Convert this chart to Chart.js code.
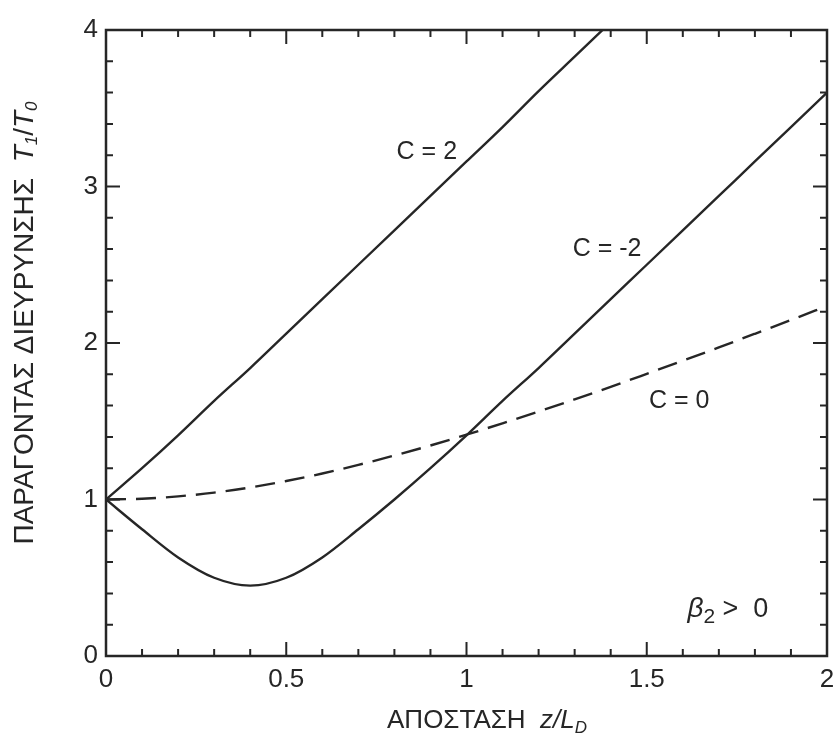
<!DOCTYPE html>
<html>
<head>
<meta charset="utf-8">
<script src="https://cdn.jsdelivr.net/npm/chart.js@4.4.1/dist/chart.umd.min.js"></script>
<style>
  html, body { margin: 0; padding: 0; background: #fff; }
</style>
</head>
<body>
<canvas id="chart" width="835" height="745"></canvas>
<script>
// distance z/L_D (x axis)
const distance = [0, 0.1, 0.2, 0.3, 0.4, 0.5, 0.6, 0.7, 0.8, 0.9, 1.0,
  1.1, 1.2, 1.3, 1.4, 1.5, 1.6, 1.7, 1.8, 1.9, 2.0];

// broadening factor T1/T0
const broadC2 = [1.0, 1.2, 1.41, 1.63, 1.84, 2.06, 2.28, 2.5, 2.72, 2.94, 3.16,
  3.38, 3.61, 3.83, 4.05];
const broadCm2 = [1.0, 0.81, 0.63, 0.5, 0.45, 0.5, 0.63, 0.81, 1.0, 1.2, 1.41,
  1.63, 1.84, 2.06, 2.28, 2.5, 2.72, 2.94, 3.16, 3.38, 3.6];
const broadC0 = [1.0, 1.005, 1.02, 1.044, 1.077, 1.118, 1.166, 1.221, 1.281, 1.345, 1.414,
  1.487, 1.562, 1.64, 1.72, 1.803, 1.887, 1.972, 2.059, 2.147, 2.236];

const xTickValues = [0, 0.5, 1, 1.5, 2];
const yTickValues = [0, 1, 2, 3, 4];

const curveLabels = ['C = 2', 'C = -2', 'C = 0'];
const yTitleText = 'ΠΑΡΑΓΟΝΤΑΣ ΔΙΕΥΡΥΝΣΗΣ';
const xTitleText = 'ΑΠΟΣΤΑΣΗ';

const INK = '#262626';
const FONT = "'Liberation Sans', Arial, sans-serif";

const toPoints = (ys) => ys.map((y, i) => ({ x: distance[i], y: y }));

// draw text made of pieces with different fonts (italic, subscripts)
function drawParts(ctx, parts, cx, cy) {
  let total = 0;
  parts.forEach(p => { ctx.font = p.font; total += ctx.measureText(p.t).width; });
  let x = cx - total / 2;
  parts.forEach(p => {
    ctx.font = p.font;
    ctx.fillText(p.t, x, cy + (p.dy || 0));
    x += ctx.measureText(p.t).width;
  });
}

const framePlugin = {
  id: 'frame',
  afterDraw(chart) {
    const { ctx, chartArea: a, scales } = chart;
    const xs = scales.x, ys = scales.y;
    ctx.save();
    ctx.strokeStyle = INK;
    ctx.fillStyle = INK;

    // box
    ctx.lineWidth = 2.5;
    ctx.strokeRect(a.left, a.top, a.right - a.left, a.bottom - a.top);

    // inward ticks on all four sides
    ctx.lineWidth = 2;
    ctx.beginPath();
    for (let i = 0; i <= 20; i++) {
      const px = xs.getPixelForValue(i / 10);
      const len = i % 5 === 0 ? 14 : 7;
      ctx.moveTo(px, a.bottom); ctx.lineTo(px, a.bottom - len);
      ctx.moveTo(px, a.top); ctx.lineTo(px, a.top + len);
    }
    for (let i = 0; i <= 20; i++) {
      const py = ys.getPixelForValue(i / 5);
      const len = i % 5 === 0 ? 14 : 7;
      ctx.moveTo(a.left, py); ctx.lineTo(a.left + len, py);
      ctx.moveTo(a.right, py); ctx.lineTo(a.right - len, py);
    }
    ctx.stroke();

    // curve labels
    ctx.textBaseline = 'middle';
    ctx.font = '25px ' + FONT;
    ctx.textAlign = 'center';
    ctx.fillText(curveLabels[0], xs.getPixelForValue(0.89), ys.getPixelForValue(3.22));
    ctx.fillText(curveLabels[1], xs.getPixelForValue(1.39), ys.getPixelForValue(2.6));
    ctx.fillText(curveLabels[2], xs.getPixelForValue(1.59), ys.getPixelForValue(1.63));

    ctx.textAlign = 'left';
    drawParts(ctx, [
      { t: 'β', font: 'italic 28px ' + FONT },
      { t: '2', font: '21px ' + FONT, dy: 8 },
      { t: ' >  0', font: '27px ' + FONT }
    ], xs.getPixelForValue(1.725), ys.getPixelForValue(0.3));

    // x title
    drawParts(ctx, [
      { t: xTitleText + '  ', font: '26px ' + FONT },
      { t: 'z/L', font: 'italic 26px ' + FONT },
      { t: 'D', font: 'italic 17px ' + FONT, dy: 7 }
    ], 487, 721);

    // y title (rotated)
    ctx.translate(25, 323);
    ctx.rotate(-Math.PI / 2);
    drawParts(ctx, [
      { t: yTitleText + '  ', font: '28px ' + FONT },
      { t: 'T', font: 'italic 28px ' + FONT },
      { t: '1', font: 'italic 17px ' + FONT, dy: 7 },
      { t: '/', font: '28px ' + FONT },
      { t: 'T', font: 'italic 28px ' + FONT },
      { t: '0', font: 'italic 17px ' + FONT, dy: 7 }
    ], 0, 0);
    ctx.restore();
  }
};

const lineStyle = {
  borderColor: INK,
  borderWidth: 2.4,
  pointRadius: 0,
  fill: false,
  cubicInterpolationMode: 'monotone'
};

new Chart(document.getElementById('chart'), {
  type: 'line',
  data: {
    datasets: [
      { label: curveLabels[0], data: toPoints(broadC2), ...lineStyle },
      { label: curveLabels[1], data: toPoints(broadCm2), ...lineStyle },
      { label: curveLabels[2], data: toPoints(broadC0), ...lineStyle, borderDash: [20, 10] }
    ]
  },
  options: {
    responsive: false,
    animation: false,
    devicePixelRatio: 1,
    layout: { padding: { top: 30, right: 8, left: 0, bottom: 0 } },
    plugins: { legend: { display: false }, tooltip: { enabled: false } },
    scales: {
      x: {
        type: 'linear',
        min: 0,
        max: 2,
        afterBuildTicks: (s) => { s.ticks = xTickValues.map(v => ({ value: v })); },
        afterFit: (s) => { s.height = 89; s.paddingLeft = 0; s.paddingRight = 0; },
        grid: { display: false, drawTicks: false },
        border: { display: false },
        ticks: {
          color: INK, font: { size: 26, family: FONT }, padding: 8, maxRotation: 0,
          callback: (v) => String(v)
        }
      },
      y: {
        type: 'linear',
        min: 0,
        max: 4,
        afterBuildTicks: (s) => { s.ticks = yTickValues.map(v => ({ value: v })); },
        afterFit: (s) => { s.width = 106; s.paddingTop = 0; s.paddingBottom = 0; },
        grid: { display: false, drawTicks: false },
        border: { display: false },
        ticks: { color: INK, font: { size: 26, family: FONT }, padding: 8, callback: (v) => String(v) }
      }
    }
  },
  plugins: [framePlugin]
});
</script>
</body>
</html>
